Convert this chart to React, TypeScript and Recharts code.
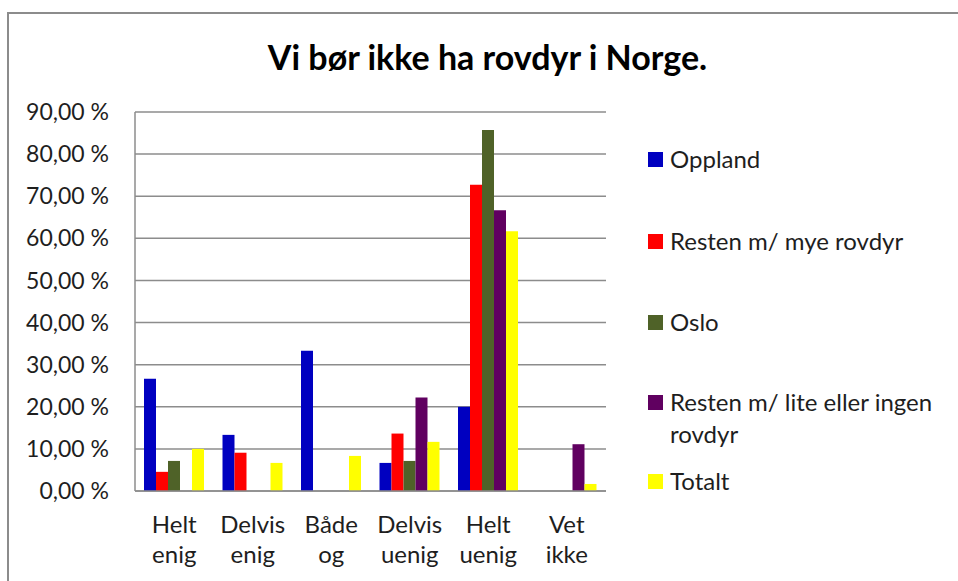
import { Bar, BarChart, CartesianGrid, Legend, XAxis, YAxis } from "recharts";

const categories = ["Helt enig", "Delvis enig", "Både og", "Delvis uenig", "Helt uenig", "Vet ikke"];
const oppland = [26.67, 13.33, 33.33, 6.67, 20.0, 0];
const restenMye = [4.55, 9.09, 0, 13.64, 72.73, 0];
const oslo = [7.14, 0, 0, 7.14, 85.71, 0];
const restenLite = [0, 0, 0, 22.22, 66.67, 11.11];
const totalt = [10.0, 6.67, 8.33, 11.67, 61.67, 1.67];
const yTicks = [0, 10, 20, 30, 40, 50, 60, 70, 80, 90];

const series = [
  { key: "oppland", name: "Oppland", color: "#0000C0", values: oppland },
  { key: "restenMye", name: "Resten m/ mye rovdyr", color: "#FF0000", values: restenMye },
  { key: "oslo", name: "Oslo", color: "#4F6228", values: oslo },
  { key: "restenLite", name: "Resten m/ lite eller ingen rovdyr", color: "#600060", values: restenLite },
  { key: "totalt", name: "Totalt", color: "#FFFF00", values: totalt },
];

const data = categories.map((cat, i) => {
  const row: Record<string, string | number> = { cat };
  series.forEach((s) => (row[s.key] = s.values[i]));
  return row;
});

const FONT = "Lato, 'Liberation Sans', sans-serif";
const TEXT = "#1e1e1e";

const pct = (v: number) => `${v.toFixed(2).replace(".", ",")} %`;

function CategoryTick({ x, y, payload }: any) {
  const lines = String(payload.value).split(" ");
  return (
    <text x={x} y={y} textAnchor="middle" fill={TEXT} fontFamily={FONT} fontSize={24}>
      {lines.map((l, i) => (
        <tspan key={i} x={x} dy={i === 0 ? 34 : 30}>
          {l}
        </tspan>
      ))}
    </text>
  );
}

// gaps between legend entries, as Excel spaces them
const legendGaps = [0, 50, 49, 48, 15];

function LegendBox({ payload }: any) {
  // keep the series order (recharts sorts legend items by name otherwise)
  const items = [...(payload || [])].sort(
    (a: any, b: any) => series.findIndex((s) => s.name === a.value) - series.findIndex((s) => s.name === b.value)
  );
  return (
    <div style={{ fontFamily: FONT, fontSize: 24, color: TEXT, width: 290 }}>
      {items.map((p: any, i: number) => (
        <div key={p.value} style={{ display: "flex", alignItems: "flex-start", marginTop: legendGaps[i], lineHeight: "32px" }}>
          <span style={{ width: 15, height: 15, background: p.color, flex: "none", marginTop: 9, marginRight: 7 }} />
          <span style={{ width: 270 }}>{p.value}</span>
        </div>
      ))}
    </div>
  );
}

export default function App() {
  return (
    <div style={{ position: "absolute", left: 0, top: 0, width: 958, height: 581, background: "#fff", overflow: "hidden" }}>
      <div
        style={{
          position: "absolute",
          left: 7,
          top: 12,
          width: 1000,
          height: 600,
          borderLeft: "2px solid #8c8c8c",
          borderTop: "2px solid #8c8c8c",
        }}
      />
      <div
        style={{
          position: "absolute",
          left: 0,
          top: 36,
          width: 975,
          textAlign: "center",
          fontFamily: FONT,
          fontWeight: 700,
          fontSize: 34,
          color: "#000",
        }}
      >
        Vi bør ikke ha rovdyr i Norge.
      </div>
      <BarChart
        width={958}
        height={581}
        data={data}
        margin={{ top: 112, right: 352, left: 45, bottom: 30 }}
        barSize={12}
        barGap={0}
        style={{ position: "absolute", left: 0, top: 0 }}
      >
        <CartesianGrid vertical={false} stroke="#8c8c8c" strokeWidth={1.5} />
        <XAxis
          dataKey="cat"
          height={60}
          interval={0}
          tickLine={false}
          axisLine={{ stroke: "#8c8c8c", strokeWidth: 1.5 }}
          tick={<CategoryTick />}
        />
        <YAxis
          width={90}
          domain={[0, 90]}
          ticks={yTicks}
          tickFormatter={pct}
          tickLine={false}
          tickSize={0}
          tickMargin={26}
          axisLine={{ stroke: "#8c8c8c", strokeWidth: 1.5 }}
          tick={{ fill: TEXT, fontFamily: FONT, fontSize: 23 }}
        />
        <Legend
          layout="vertical"
          align="center"
          verticalAlign="middle"
          content={<LegendBox />}
          wrapperStyle={{ left: 648, top: 143, width: 300 }}
        />
        {series.map((s) => (
          <Bar key={s.key} dataKey={s.key} name={s.name} fill={s.color} isAnimationActive={false} />
        ))}
      </BarChart>
    </div>
  );
}
